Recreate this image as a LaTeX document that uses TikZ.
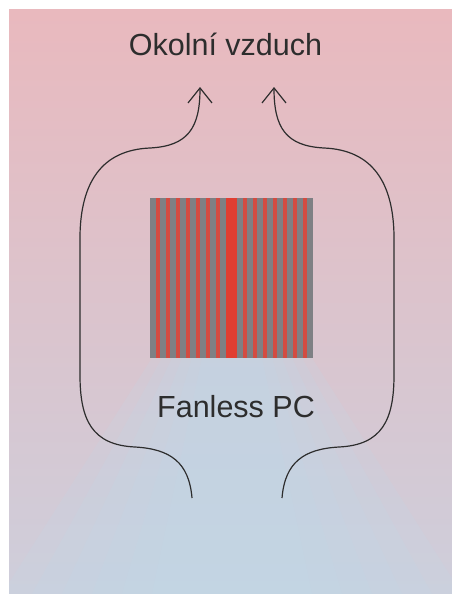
\documentclass[tikz,border=0pt]{standalone}
\usepackage{fontspec}
\setmainfont{Liberation Sans}
\usetikzlibrary{arrows.meta}
\definecolor{bgtop}{RGB}{233,185,190}
\definecolor{bgmid}{RGB}{224,200,207}
\definecolor{bgbot}{RGB}{206,206,219}
\definecolor{glow}{RGB}{192,218,234}
\definecolor{stripegray}{RGB}{126,128,132}
\definecolor{stripered}{RGB}{210,76,66}
\definecolor{corered}{RGB}{224,62,50}
\definecolor{ink}{RGB}{45,45,45}
\tikzset{
  flow/.style={draw=ink, line width=1.2pt, -{Straight Barb[length=15pt,width=24pt,line width=1.2pt]}},
  lbl/.style={font=\fontsize{30.5}{36}\selectfont, text=ink, inner sep=0pt},
  ray/.style={fill=glow, fill opacity=0.17, draw=none},
}
\begin{document}
\begin{tikzpicture}[x=1pt,y=-1pt]
\useasboundingbox (0,0) rectangle (452,594);
\fill[white] (0,0) rectangle (452,594);
\begin{scope}
  \clip (9,10) rectangle (452,594);
  \shade[top color=bgtop, middle color=bgmid, bottom color=bgbot] (9,10) rectangle (452,594);
  \foreach \i in {0,...,5} {
    \fill[ray] ({232-80+10*\i},358) -- ({232+80-10*\i},358)
      -- ({232+230-30*\i},594) -- ({232-230+30*\i},594) -- cycle;
  }
\end{scope}
% heat sink
\fill[stripegray] (150,198) rectangle (313,358);
\foreach \k in {0,...,6} {
  \fill[stripered] ({155.5+10*\k},198) rectangle ({160+10*\k},358);
  \fill[stripered] ({242.5+10*\k},198) rectangle ({247+10*\k},358);
}
\fill[corered] (226,198) rectangle (237,358);
% labels
\node[lbl, anchor=base] (air) at (225.5,56) {Okolní vzduch};
\node[lbl, anchor=base] (pc) at (236,417) {Fanless PC};
% air flow
\coordinate (lbot) at (192,498);
\coordinate (ltop) at (200,87);
\coordinate (rbot) at (282,498);
\coordinate (rtop) at (274,87);
\draw[flow] (lbot) .. controls (189,462) and (170,449) .. (135,447)
  .. controls (92,445) and (80,420) .. (80,375) -- (80,235)
  .. controls (81,182) and (102,150) .. (150,148)
  .. controls (188,146) and (200,128) .. (ltop);
\draw[flow] (rbot) .. controls (285,462) and (304,449) .. (339,447)
  .. controls (382,445) and (394,420) .. (394,375) -- (394,235)
  .. controls (393,182) and (372,150) .. (324,148)
  .. controls (286,146) and (274,128) .. (rtop);
\end{tikzpicture}
\end{document}
